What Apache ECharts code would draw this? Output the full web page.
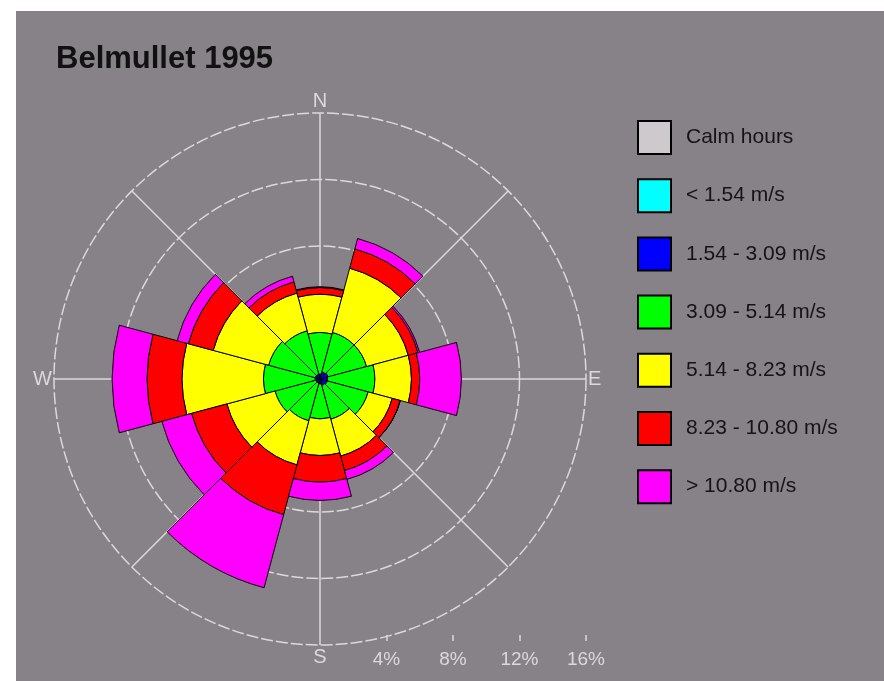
<!DOCTYPE html>
<html>
<head>
<meta charset="utf-8">
<title>Belmullet 1995</title>
<script src="https://cdn.jsdelivr.net/npm/echarts@6.0.0/dist/echarts.min.js"></script>
<style>
  html, body { margin: 0; padding: 0; background: #ffffff; }
  #rose { position: absolute; left: 16px; top: 11px; width: 868px; height: 670px; }
</style>
</head>
<body>
<div id="rose"></div>
<script>
// wind directions (sector centres, degrees from north)
const directions = ['0', '30', '60', '90', '120', '150', '180', '210', '240', '270', '300', '330'];

// % of hours per speed band, per direction
const calmHours   = [0, 0, 0, 0, 0, 0, 0, 0, 0, 0, 0, 0];
const below154    = [0.05, 0.05, 0.05, 0.05, 0.05, 0.05, 0.05, 0.05, 0.05, 0.05, 0.05, 0.05];
const from154     = [0.25, 0.4, 0.45, 0.4, 0.4, 0.35, 0.25, 0.2, 0.2, 0.25, 0.25, 0.25];
const from309     = [2.5, 2.45, 2.4, 2.85, 2.55, 2.1, 2.1, 2.35, 2.55, 3.1, 2.9, 2.7];
const from514     = [2.3, 4.0, 2.6, 2.2, 1.5, 2.3, 2.2, 2.75, 3.0, 4.9, 3.45, 2.35];
const from823     = [0.4, 1.2, 0.6, 0.5, 0.5, 0.9, 1.6, 3.1, 2.2, 2.1, 1.55, 0.7];
const above1080   = [0.05, 0.65, 0.1, 2.5, 0, 0.55, 1.1, 4.55, 1.85, 2.1, 0.7, 0.35];

const bandNames = ['Calm hours', '< 1.54 m/s', '1.54 - 3.09 m/s', '3.09 - 5.14 m/s',
                   '5.14 - 8.23 m/s', '8.23 - 10.80 m/s', '> 10.80 m/s'];
const bandData = [calmHours, below154, from154, from309, from514, from823, above1080];
const bandColors = ['#cdc9cd', '#00ffff', '#0000ff', '#00ff00', '#ffff00', '#ff0000', '#ff00ff'];

const compass = { 0: 'N', 90: 'E', 180: 'S', 270: 'W' };
const scaleTicks = [4, 8, 12, 16];

const gridColor = '#dcd8dc';
const center = [304, 368];
const radius = 266;

let drawCharts = echarts.init(document.getElementById('rose'));

let series = bandNames.map(function (name, i) {
  return {
    name: name,
    type: 'bar',
    coordinateSystem: 'polar',
    polarIndex: 0,
    stack: 'wind',
    barCategoryGap: '0%',
    itemStyle: {
      color: bandColors[i],
      borderColor: '#000000',
      borderWidth: 1
    },
    emphasis: { disabled: true },
    data: bandData[i]
  };
});

option = {
  backgroundColor: '#868287',
  animation: false,
  title: {
    text: 'Belmullet 1995',
    left: 35,
    top: 28,
    textStyle: {
      fontFamily: 'Liberation Sans, Arial, sans-serif',
      fontSize: 31,
      fontWeight: 'bold',
      color: '#111111'
    }
  },
  legend: {
    orient: 'vertical',
    left: 616,
    top: 104,
    itemWidth: 33,
    itemHeight: 33,
    itemGap: 23.2,
    icon: 'rect',
    data: bandNames,
    textStyle: {
      fontFamily: 'Liberation Sans, Arial, sans-serif',
      fontSize: 21,
      color: '#141414',
      padding: [0, 0, 0, 10]
    }
  },
  polar: [
    { center: center, radius: radius },
    { center: center, radius: radius }
  ],
  angleAxis: [
    {
      polarIndex: 0,
      type: 'category',
      data: directions,
      startAngle: 105,
      boundaryGap: true,
      axisLine: { show: false },
      axisTick: { show: false },
      axisLabel: { show: false },
      splitLine: { show: false }
    },
    {
      polarIndex: 1,
      type: 'value',
      min: 0,
      max: 360,
      interval: 45,
      startAngle: 90,
      axisLine: { show: false },
      axisTick: { show: false },
      axisLabel: {
        margin: 2,
        fontFamily: 'Liberation Sans, Arial, sans-serif',
        fontSize: 20,
        color: gridColor,
        formatter: function (v) { return compass[v] || ''; }
      },
      splitLine: { show: true, lineStyle: { color: gridColor, width: 1.5 } }
    }
  ],
  radiusAxis: [
    {
      polarIndex: 0,
      type: 'value',
      min: 0,
      max: 16,
      axisLine: { show: false },
      axisTick: { show: false },
      axisLabel: { show: false },
      splitLine: { show: false }
    },
    {
      polarIndex: 1,
      type: 'value',
      min: 0,
      max: 16,
      interval: 4,
      axisLine: { show: false },
      axisTick: { show: false },
      axisLabel: { show: false },
      splitLine: { show: true, lineStyle: { color: gridColor, width: 1.5, type: [12, 3] } }
    }
  ],
  // percentage scale along the bottom, same length as the rose radius
  grid: { left: center[0], width: radius, top: 619, height: 5 },
  xAxis: {
    type: 'value',
    min: 0,
    max: 16,
    interval: 4,
    position: 'bottom',
    axisLine: { show: false },
    splitLine: { show: false },
    axisTick: { show: true, length: 6, lineStyle: { color: gridColor, width: 1.5 } },
    axisLabel: {
      showMinLabel: false,
      margin: 15,
      fontFamily: 'Liberation Sans, Arial, sans-serif',
      fontSize: 19,
      color: gridColor,
      formatter: function (v) { return scaleTicks.indexOf(v) >= 0 ? v + '%' : ''; }
    }
  },
  yAxis: { type: 'value', show: false, min: 0, max: 1 },
  series: series
};

drawCharts.setOption(option);
</script>
</body>
</html>
